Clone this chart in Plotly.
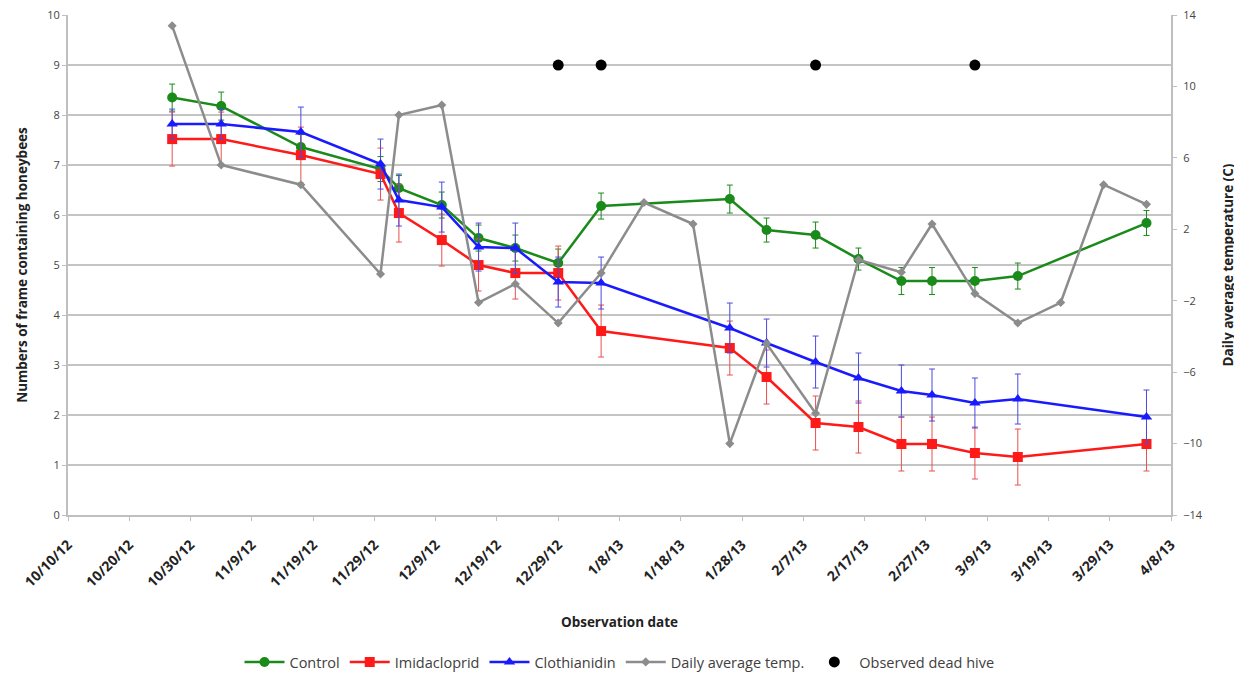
import plotly.graph_objects as go

# Observation dates for the colony series
obs_dates = ["2012-10-27", "2012-11-04", "2012-11-17", "2012-11-30", "2012-12-03",
             "2012-12-10", "2012-12-16", "2012-12-22", "2012-12-29", "2013-01-05",
             "2013-01-26", "2013-02-01", "2013-02-09", "2013-02-16", "2013-02-23",
             "2013-02-28", "2013-03-07", "2013-03-14", "2013-04-04"]

control = [8.35, 8.18, 7.36, 6.92, 6.54, 6.2, 5.54, 5.34, 5.04, 6.18,
           6.32, 5.7, 5.6, 5.12, 4.68, 4.68, 4.68, 4.78, 5.84]
control_err = [0.27, 0.28, 0.25, 0.25, 0.25, 0.26, 0.26, 0.26, 0.28, 0.26,
               0.28, 0.24, 0.26, 0.22, 0.27, 0.27, 0.27, 0.26, 0.25]

imidacloprid = [7.52, 7.52, 7.2, 6.82, 6.04, 5.5, 5.0, 4.84, 4.84, 3.68,
                3.34, 2.76, 1.84, 1.76, 1.42, 1.42, 1.24, 1.16, 1.42]
imidacloprid_err = [0.54, 0.54, 0.56, 0.52, 0.58, 0.52, 0.52, 0.52, 0.54, 0.52,
                    0.54, 0.54, 0.54, 0.52, 0.54, 0.54, 0.52, 0.56, 0.54]

clothianidin = [7.82, 7.82, 7.66, 7.02, 6.3, 6.16, 5.36, 5.34, 4.66, 4.64,
                3.74, 3.44, 3.06, 2.74, 2.48, 2.4, 2.24, 2.32, 1.96]
clothianidin_err = [0.3, 0.3, 0.5, 0.5, 0.52, 0.5, 0.48, 0.5, 0.5, 0.52,
                    0.5, 0.48, 0.52, 0.5, 0.52, 0.52, 0.5, 0.5, 0.54]

# Daily average temperature (right axis)
temp_dates = ["2012-10-27", "2012-11-04", "2012-11-17", "2012-11-30", "2012-12-03",
              "2012-12-10", "2012-12-16", "2012-12-22", "2012-12-29", "2013-01-05",
              "2013-01-12", "2013-01-20", "2013-01-26", "2013-02-01", "2013-02-09",
              "2013-02-16", "2013-02-23", "2013-02-28", "2013-03-07", "2013-03-14",
              "2013-03-21", "2013-03-28", "2013-04-04"]
temperature = [13.4, 5.6, 4.5, -0.5, 8.4, 8.96, -2.1, -1.06, -3.25, -0.45,
               3.5, 2.3, -10.0, -4.4, -8.3, 0.3, -0.4, 2.3, -1.6, -3.25,
               -2.1, 4.5, 3.4]

# Observed dead hives
dead_dates = ["2012-12-29", "2013-01-05", "2013-02-09", "2013-03-07"]
dead_level = [9, 9, 9, 9]

# Axis tick values
left_ticks = [0, 1, 2, 3, 4, 5, 6, 7, 8, 9, 10]
right_ticks = [-14, -10, -6, -2, 2, 6, 10, 14]

font_family = "'Open Sans', Lato, sans-serif"

fig = go.Figure()

fig.add_trace(go.Scatter(
    x=obs_dates, y=control, name="Control", mode="lines+markers",
    line=dict(color="#1a8a1a", width=2.5),
    marker=dict(symbol="circle", size=10, color="#1a8a1a"),
    error_y=dict(type="data", array=control_err, visible=True,
                 color="#1a8a1a", thickness=1, width=3),
))
fig.add_trace(go.Scatter(
    x=obs_dates, y=imidacloprid, name="Imidacloprid", mode="lines+markers",
    line=dict(color="#ff1a1a", width=2.5),
    marker=dict(symbol="square", size=10, color="#ff1a1a"),
    error_y=dict(type="data", array=imidacloprid_err, visible=True,
                 color="#e85050", thickness=1, width=3),
))
fig.add_trace(go.Scatter(
    x=obs_dates, y=clothianidin, name="Clothianidin", mode="lines+markers",
    line=dict(color="#1a1aff", width=2.5),
    marker=dict(symbol="triangle-up", size=10, color="#1a1aff"),
    error_y=dict(type="data", array=clothianidin_err, visible=True,
                 color="#4a4ae0", thickness=1, width=3),
))
fig.add_trace(go.Scatter(
    x=temp_dates, y=temperature, name="Daily average temp.", mode="lines+markers",
    yaxis="y2",
    line=dict(color="#8c8c8c", width=2.5),
    marker=dict(symbol="diamond", size=7, color="#8c8c8c"),
))
fig.add_trace(go.Scatter(
    x=dead_dates, y=dead_level, name="Observed dead hive", mode="markers",
    marker=dict(symbol="circle", size=11, color="black"),
))

# page body adds an 8px offset, so the figure is sized to fit the window
fig.update_layout(
    width=1234, height=667,
    paper_bgcolor="white", plot_bgcolor="white",
    font=dict(family=font_family, size=12, color="#333333"),
    margin=dict(l=60, r=71, t=7, b=160, autoexpand=False),
    showlegend=True,
    legend=dict(orientation="h", x=0.5, xanchor="center", y=-0.294, yanchor="middle",
                font=dict(size=14.5, color="#404040"), itemwidth=40,
                traceorder="normal"),
    xaxis=dict(
        type="date", automargin=False,
        range=["2012-10-10", "2013-04-08"],
        tick0="2012-10-10", dtick=10 * 86400000,
        tickformat="%-m/%-d/%y", tickangle=-45,
        tickfont=dict(size=14, color="#222222", family=font_family, weight="bold"),
        ticklabelstandoff=10, ticklabeloverflow="allow",
        showgrid=False, showline=True, linecolor="#bfbfbf", linewidth=2,
        ticks="outside", ticklen=4, tickcolor="#bfbfbf",
        title=dict(text="<b>Observation date</b>", font=dict(size=13.5, color="#222222"), standoff=28),
    ),
    yaxis=dict(
        range=[0, 10.002], tickmode="array", tickvals=left_ticks, automargin=False,
        showgrid=True, gridcolor="#c4c4c4", gridwidth=2,
        showline=True, linecolor="#bfbfbf", linewidth=2,
        ticks="outside", ticklen=4, tickcolor="#bfbfbf",
        tickfont=dict(size=11, color="#444444"),
        ticklabeloverflow="allow",
        zeroline=False,
        title=dict(text="<b>Numbers of frame containing honeybees</b>",
                   font=dict(size=13.5, color="#222222"), standoff=16),
    ),
    yaxis2=dict(
        range=[-14, 14.005], tickmode="array", tickvals=right_ticks, automargin=False,
        overlaying="y", side="right",
        showgrid=False, showline=True, linecolor="#bfbfbf", linewidth=2,
        ticks="outside", ticklen=4, tickcolor="#bfbfbf",
        tickfont=dict(size=11, color="#444444"),
        ticklabelstandoff=4, ticklabeloverflow="allow",
        zeroline=False,
        title=dict(text="<b>Daily average temperature (C)</b>",
                   font=dict(size=13.5, color="#222222"), standoff=22),
    ),
)

fig.write_html("out.html")
